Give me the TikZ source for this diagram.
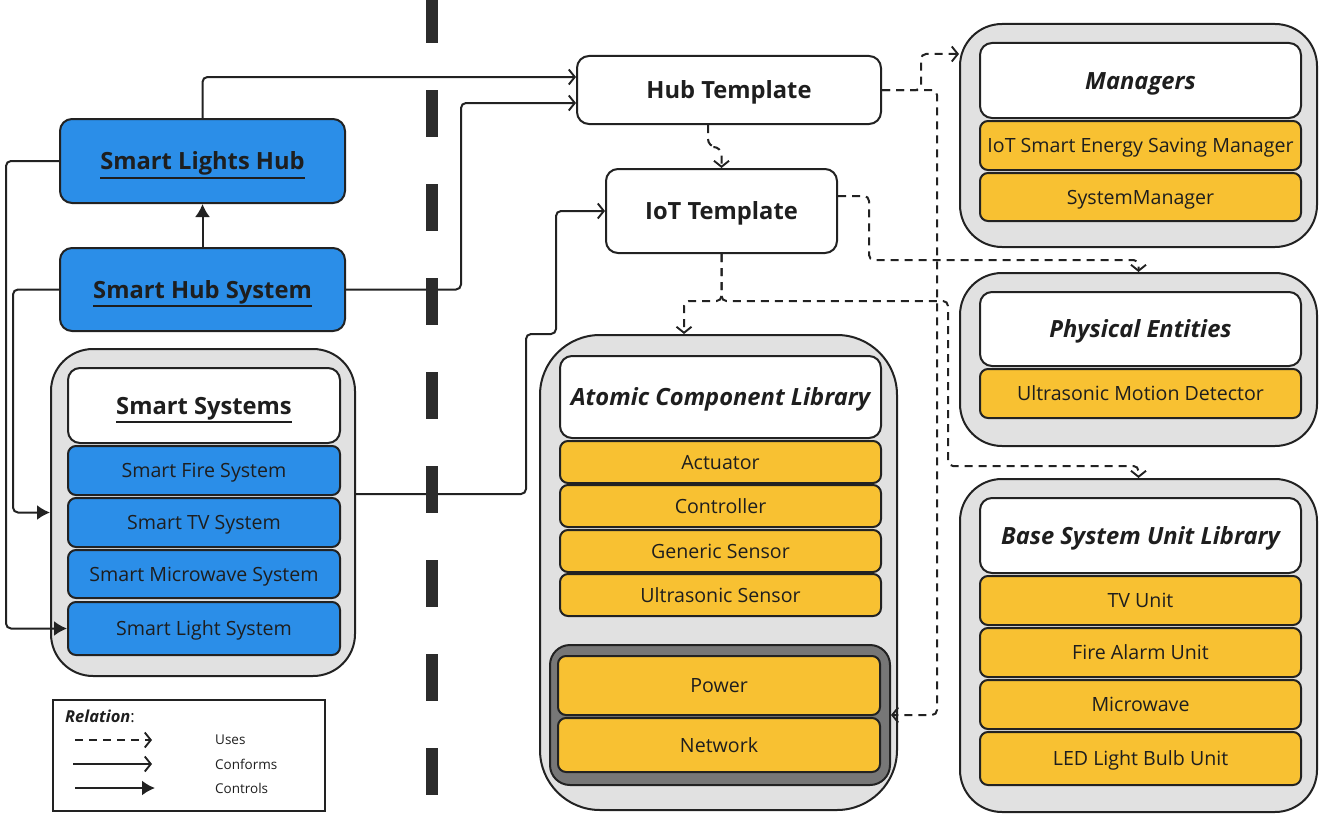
\documentclass[tikz,border=0pt]{standalone}
\usepackage{fontspec}
\setmainfont{Open Sans}
\usetikzlibrary{arrows.meta}
\definecolor{bl}{HTML}{2B8EE8}
\definecolor{yl}{HTML}{F8C132}
\definecolor{lg}{HTML}{E1E1E1}
\definecolor{dg}{HTML}{777777}
\definecolor{edge}{HTML}{222222}
\definecolor{txt}{HTML}{1E1E1E}
\definecolor{sep}{HTML}{2C2C2C}
\newcommand\myul[1]{\leavevmode\vtop{\hbox{#1}\kern1.8pt\hrule height 1.9pt}}
\begin{document}
\begin{tikzpicture}[x=1pt,y=-1pt,
  box/.style={draw=edge, line width=2pt, rounded corners=12pt, inner sep=0pt, align=center, text=txt},
  big/.style={font=\fontsize{23.7}{28}\selectfont\bfseries, text height=17pt, text depth=0pt},
  small/.style={font=\fontsize{19.6}{23}\selectfont, text height=14pt, text depth=0pt},
  bluebox/.style={box, fill=bl, big},
  bitem/.style={box, fill=bl, rounded corners=8pt, small},
  ybox/.style={box, fill=yl, rounded corners=8pt, small},
  wbox/.style={box, fill=white, big},
  hbox/.style={box, fill=white, big, font=\fontsize{23.7}{28}\selectfont\bfseries\itshape},
  cont/.style={draw=edge, line width=2pt, fill=lg, rounded corners=42pt, inner sep=0pt},
  conn/.style={draw=edge, line width=2pt, rounded corners=5pt},
  conf/.style={conn, -{Straight Barb[length=6pt,width=15pt,line width=1.9pt]}},
  ctrl/.style={conn, -{Latex[length=13pt,width=15pt]}},
  uses/.style={conf, dash pattern=on 8pt off 6pt},
  leg/.style={inner sep=0pt, anchor=west, text=txt, font=\fontsize{13.5}{16}\selectfont}
]
\useasboundingbox (0,0) rectangle (1322,816);

% left side
\node[bluebox, minimum width=285pt, minimum height=84pt] (slh) at (202.5,161) {\myul{Smart Lights Hub}};
\node[bluebox, minimum width=285pt, minimum height=83pt] (shs) at (202.5,289.5) {\myul{Smart Hub System}};
\node[cont, minimum width=304pt, minimum height=327pt] (ss) at (203,512.5) {};
\node[wbox, minimum width=272pt, minimum height=75pt] (ssh) at (204,405.5) {\myul{Smart Systems}};
\node[bitem, minimum width=272pt, minimum height=49pt] (sf) at (204,470.5) {Smart Fire System};
\node[bitem, minimum width=272pt, minimum height=49pt] (stv) at (204,522.5) {Smart TV System};
\node[bitem, minimum width=272pt, minimum height=48pt] (smw) at (204,574) {Smart Microwave System};
\node[bitem, minimum width=272pt, minimum height=53pt] (sl) at (204,628.5) {Smart Light System};

% templates
\node[wbox, minimum width=304pt, minimum height=68pt] (ht) at (729,90) {Hub Template};
\node[wbox, minimum width=231pt, minimum height=84pt] (iot) at (721.5,211) {IoT Template};

% atomic component library
\node[cont, rounded corners=60pt, minimum width=357pt, minimum height=475pt] (atom) at (718.5,572.5) {};
\node[hbox, minimum width=321pt, minimum height=82pt] (atomh) at (720.5,397) {Atomic Component Library};
\node[ybox, minimum width=321pt, minimum height=42pt] (act) at (720.5,462) {Actuator};
\node[ybox, minimum width=321pt, minimum height=42pt] (ctl) at (720.5,506) {Controller};
\node[ybox, minimum width=321pt, minimum height=42pt] (gen) at (720.5,551) {Generic Sensor};
\node[ybox, minimum width=321pt, minimum height=42pt] (uls) at (720.5,595) {Ultrasonic Sensor};
\node[box, fill=dg, rounded corners=20pt, minimum width=340pt, minimum height=140pt] (dark) at (720,715) {};
\node[ybox, minimum width=322pt, minimum height=59pt] (pow) at (719,685.5) {Power};
\node[ybox, minimum width=322pt, minimum height=54pt] (net) at (719,745) {Network};

% managers
\node[cont, minimum width=357pt, minimum height=223pt] (mgr) at (1138.5,135.5) {};
\node[hbox, minimum width=321pt, minimum height=75pt] (mgrh) at (1140.5,80.5) {Managers};
\node[ybox, minimum width=321pt, minimum height=49pt] (ise) at (1140.5,145.5) {IoT Smart Energy Saving Manager};
\node[ybox, minimum width=321pt, minimum height=48pt] (sym) at (1140.5,197) {SystemManager};

% physical entities
\node[cont, minimum width=357pt, minimum height=173pt] (phy) at (1138.5,359.5) {};
\node[hbox, minimum width=321pt, minimum height=74pt] (phyh) at (1140.5,329) {Physical Entities};
\node[ybox, minimum width=321pt, minimum height=49pt] (umd) at (1140.5,393.5) {Ultrasonic Motion Detector};

% base system unit library
\node[cont, minimum width=357pt, minimum height=333pt] (base) at (1138.5,645.5) {};
\node[hbox, minimum width=321pt, minimum height=75pt] (baseh) at (1140.5,535.5) {Base System Unit Library};
\node[ybox, minimum width=321pt, minimum height=49pt] (tvu) at (1140.5,600.5) {TV Unit};
\node[ybox, minimum width=321pt, minimum height=49pt] (fau) at (1140.5,652.5) {Fire Alarm Unit};
\node[ybox, minimum width=321pt, minimum height=49pt] (mwu) at (1140.5,704.5) {Microwave};
\node[ybox, minimum width=321pt, minimum height=53pt] (led) at (1140.5,758.5) {LED Light Bulb Unit};

% connectors
\draw[conf] (slh.north) |- ([yshift=13pt]ht.west);
\draw[conf] (shs.east) -- ++(115,0) |- ([yshift=-13pt]ht.west);
\draw[ctrl] (shs.north) -- (slh.south);
\draw[ctrl] (slh.west) -- ++(-53,0) |- (sl.west);
\draw[ctrl] (shs.west) -- ++(-46,0) |- (ss.west);
\draw[conf] ([yshift=18.5pt]ss.east) -- ++(170,0) -- ++(0,-160) -- ++(30,0) |- (iot.west);
\draw[uses, rounded corners=8pt] ([xshift=-21pt]ht.south) -- ++(0,22) -| (iot.north);
\draw[uses] (ht.east) -- ++(39,0) |- ([yshift=81.5pt]mgr.west);
\draw[uses] (ht.east) -- ++(55,0) |- (dark.east);
\draw[uses] ([yshift=15pt]iot.east) -- ++(31,0) -- ++(0,64) -| (phy.north);
\draw[uses] (iot.south) -- ++(0,47) -| ([xshift=-34.5pt]atom.north);
\draw[uses] (iot.south) -- ++(0,47) -- ++(226.5,0) -- ++(0,165) -| (base.north);

% separator
\draw[line width=12pt, draw=sep, dash pattern=on 47pt off 47pt] (432,-4) -- (432,816);

% legend
\node[draw=edge, line width=2pt, minimum width=272pt, minimum height=111pt, inner sep=0pt] (legbox) at (189,755.5) {};
\node[leg, font=\fontsize{16.5}{19}\selectfont] (legt) at (65,716) {\textbf{\textit{Relation}}:};
\coordinate (u1) at (75,740); \coordinate (u2) at (152,740);
\coordinate (c1) at (73,764); \coordinate (c2) at (152,764);
\coordinate (k1) at (75,788); \coordinate (k2) at (155,788);
\draw[uses] (u1) -- (u2);
\draw[conf] (c1) -- (c2);
\draw[ctrl] (k1) -- (k2);
\node[leg] (lu) at (215,740) {Uses};
\node[leg] (lc) at (215,764) {Conforms};
\node[leg] (lk) at (215,788) {Controls};
\end{tikzpicture}
\end{document}
